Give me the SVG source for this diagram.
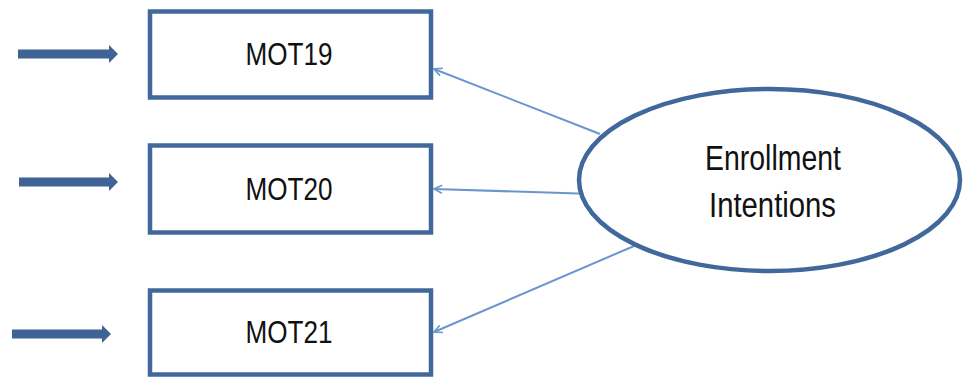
<svg xmlns="http://www.w3.org/2000/svg" width="963" height="377" viewBox="0 0 963 377">
<style>
.box{fill:#fff;stroke:#41689A;stroke-width:4.5}
.lbl{font-family:"Liberation Sans",Arial,sans-serif;fill:#111;text-anchor:middle}
.bar{stroke:#3E6394;stroke-width:9;fill:none}
.head{fill:#3E6394}
.load{stroke:#6B96CD;stroke-width:2;fill:none;marker-end:url(#open)}
</style>
<defs>
<marker id="open" viewBox="0 0 10 10" refX="9" refY="5" markerWidth="5" markerHeight="5" orient="auto" markerUnits="strokeWidth">
<path d="M1,1 L9,5 L1,9" fill="none" stroke="#6B96CD" stroke-width="1.6"/>
</marker>
</defs>
<g id="connectors">
<line class="bar" x1="18" y1="54" x2="111" y2="54"/>
<polygon class="head" points="109,45 118,54 109,63"/>
<line class="bar" x1="19" y1="182" x2="111" y2="182"/>
<polygon class="head" points="109,173 118,182 109,191"/>
<line class="bar" x1="12" y1="334" x2="104" y2="334"/>
<polygon class="head" points="102,325 111,334 102,343"/>
<line class="load" x1="600" y1="134" x2="434" y2="69"/>
<line class="load" x1="594" y1="194" x2="434" y2="189"/>
<line class="load" x1="634" y1="246" x2="434" y2="332"/>
</g>
<g id="MOT19">
<rect class="box" x="150" y="11.5" width="281" height="86"/>
<text class="lbl" x="289" y="65" font-size="32" textLength="87" lengthAdjust="spacingAndGlyphs">MOT19</text>
</g>
<g id="MOT20">
<rect class="box" x="150" y="145.5" width="281" height="87"/>
<text class="lbl" x="289" y="200" font-size="32" textLength="87" lengthAdjust="spacingAndGlyphs">MOT20</text>
</g>
<g id="MOT21">
<rect class="box" x="150" y="290.5" width="281" height="84"/>
<text class="lbl" x="289" y="343" font-size="32" textLength="87" lengthAdjust="spacingAndGlyphs">MOT21</text>
</g>
<g id="EnrollmentIntentions">
<ellipse cx="769.5" cy="180" rx="190.5" ry="91" fill="#fff" stroke="#41689A" stroke-width="4.5"/>
<text class="lbl" x="773" y="170" font-size="35" textLength="136" lengthAdjust="spacingAndGlyphs">Enrollment</text>
<text class="lbl" x="772.5" y="217" font-size="35" textLength="127" lengthAdjust="spacingAndGlyphs">Intentions</text>
</g>
</svg>
